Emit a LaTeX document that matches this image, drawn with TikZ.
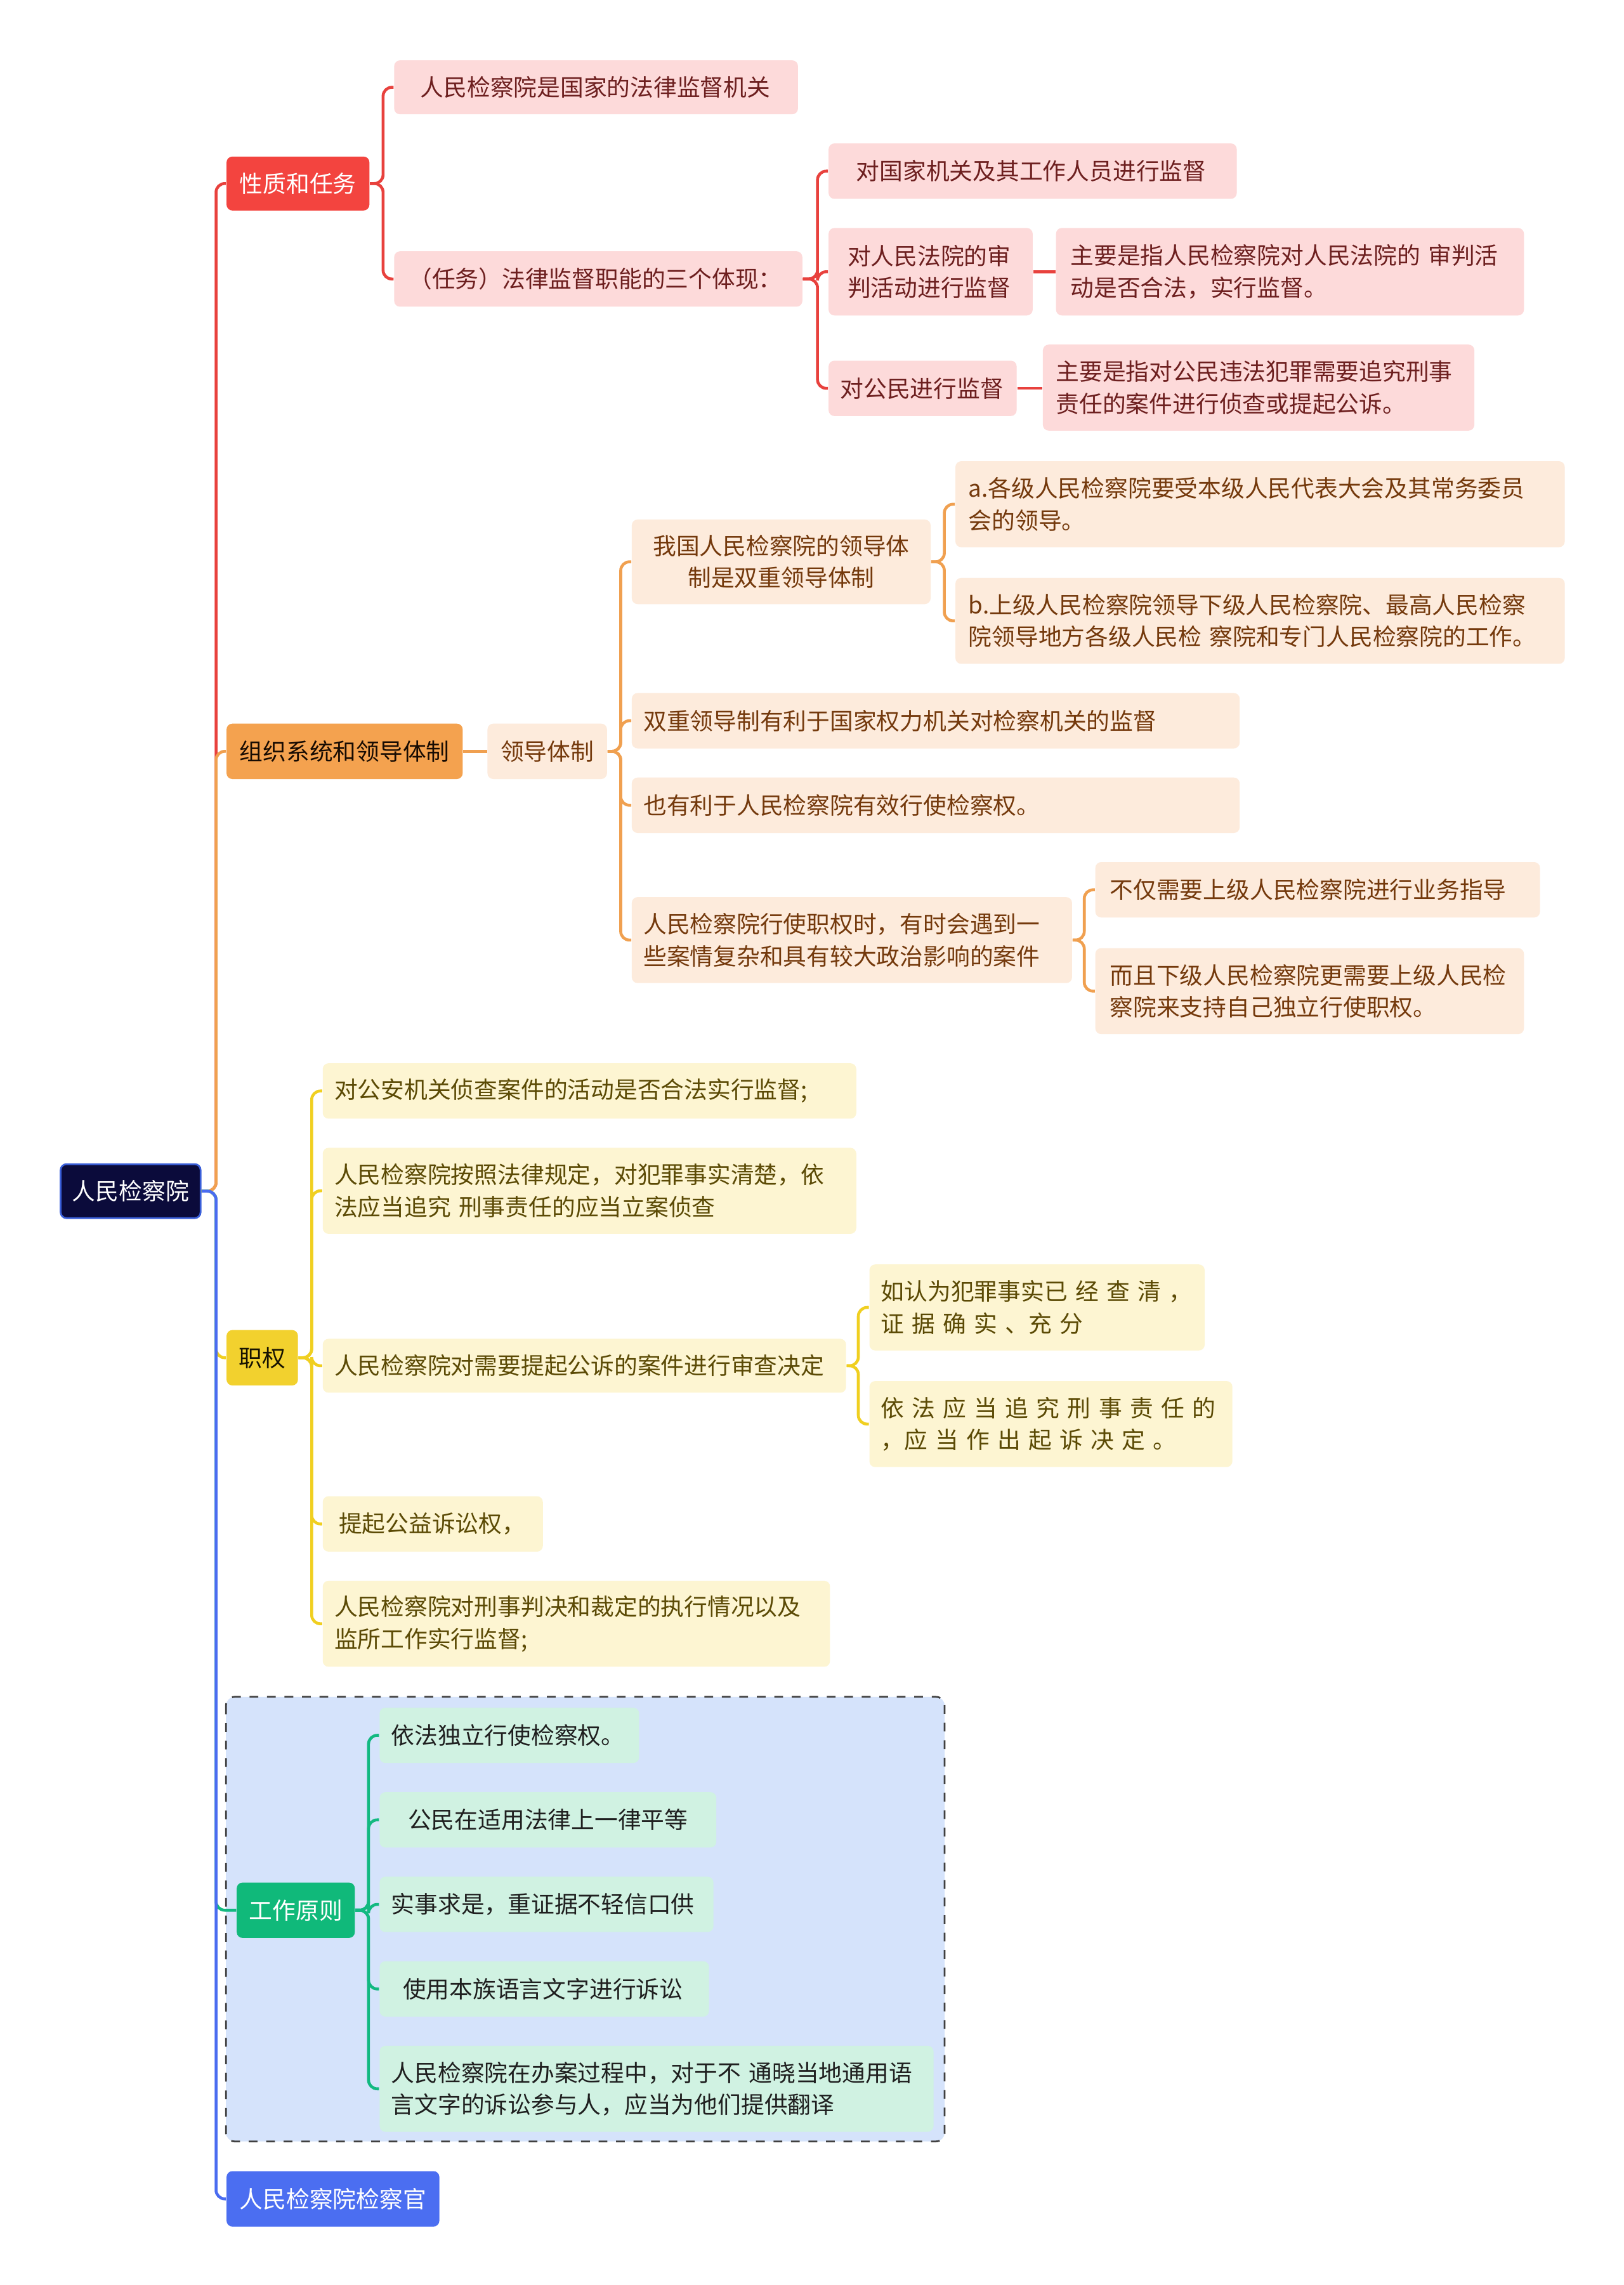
\documentclass[tikz,border=0pt]{standalone}
\usepackage{fontspec}
\newfontfamily\cjk{Noto Sans CJK SC}
\definecolor{rootF}{HTML}{0B0B3B}
\definecolor{rootB}{HTML}{3A5FD9}
\definecolor{redL}{HTML}{E8413D}
\definecolor{redF}{HTML}{F3443F}
\definecolor{redC}{HTML}{FDDADA}
\definecolor{redT}{HTML}{6D1F1F}
\definecolor{orgL}{HTML}{F0A050}
\definecolor{orgF}{HTML}{F4A24F}
\definecolor{orgC}{HTML}{FDEBDC}
\definecolor{orgT}{HTML}{74390C}
\definecolor{yelL}{HTML}{F0CF20}
\definecolor{yelF}{HTML}{F2D12E}
\definecolor{yelC}{HTML}{FDF5D2}
\definecolor{yelT}{HTML}{5B4A05}
\definecolor{grnL}{HTML}{12B981}
\definecolor{grnF}{HTML}{10B97A}
\definecolor{grnC}{HTML}{D0F2E2}
\definecolor{bluL}{HTML}{4A6CF0}
\definecolor{bluF}{HTML}{4B6EF1}
\definecolor{frameF}{HTML}{D5E3FB}
\begin{document}
\begin{tikzpicture}[x=0.5pt,y=-0.5pt,
  base/.style={font=\cjk\fontsize{8}{11}\selectfont, inner ysep=0pt, anchor=north west, rounded corners=2pt},
  lvl/.style={base, inner xsep=0pt, align=center},
  leaf/.style={base, align=left},
  bx/.style args={#1/#2/#3}{inner xsep=#1pt, text width=#2pt, minimum height=#3pt},
  sz/.style args={#1/#2}{minimum width=#1pt, minimum height=#2pt},
  rC/.style={leaf, fill=redC, text=redT},
  oC/.style={leaf, fill=orgC, text=orgT},
  yC/.style={leaf, fill=yelC, text=yelT},
  gC/.style={leaf, fill=grnC, text=black!88},
  cn/.style={line width=1pt, rounded corners=3pt},
  cR/.style={cn, draw=redL},
  cO/.style={cn, draw=orgL},
  cY/.style={cn, draw=yelL},
  cG/.style={cn, draw=grnL},
  cB/.style={cn, draw=bluL}]
\useasboundingbox (0,0) rectangle (1114,1567.5);
\fill[white] (0,0) rectangle (1114,1567.5);

% frame for working principles
\draw[fill=frameF, draw=black!75, dashed, line width=0.6pt, rounded corners=3pt] (155,1164) rectangle (648,1469);

% root
\node[lvl, sz=48/18.5, fill=rootF, draw=rootB, line width=0.6pt, text=white] (root) at (41,798) {人民检察院};

% level 1
\node[lvl, sz=49/18.5, fill=redF, text=white] (xz) at (155,107) {性质和任务};
\node[lvl, sz=81/19, fill=orgF, text=black!80!orgT] (zz) at (155,496) {组织系统和领导体制};
\node[lvl, sz=24.5/19, fill=yelF, text=black!75!yelT] (zq) at (155,912) {职权};
\node[lvl, sz=40.5/19, fill=grnF, text=white] (gz) at (162,1291) {工作原则};
\node[lvl, sz=73/19, fill=bluF, text=white] (jcg) at (155,1489) {人民检察院检察官};

% red branch
\node[rC, bx=9/120.5/18.5] (A1) at (270,41) {人民检察院是国家的法律监督机关};
\node[rC, bx=5/130/19] (A2) at (270,172) {（任务）法律监督职能的三个体现：};
\node[rC, bx=9.5/121/19] (B1) at (568,98) {对国家机关及其工作人员进行监督};
\node[rC, bx=6.5/57/30] (B2) at (568,156) {对人民法院的审\\判活动进行监督};
\node[rC, bx=4/56.5/19] (B3) at (568,247) {对公民进行监督};
\node[rC, bx=5/150.5/30] (B2c) at (724,156) {主要是指人民检察院对人民法院的 审判活\\动是否合法，实行监督。};
\node[rC, bx=4.5/139/29.5] (B3c) at (715,236) {主要是指对公民违法犯罪需要追究刑事\\责任的案件进行侦查或提起公诉。};

% orange branch
\node[oC, align=center, bx=0/41/19] (ld) at (334,496) {领导体制};
\node[oC, align=center, bx=5/92.5/29] (C1) at (433,356) {我国人民检察院的领导体\\制是双重领导体制};
\node[oC, bx=4/200.5/19] (C2) at (433,475) {双重领导制有利于国家权力机关对检察机关的监督};
\node[oC, bx=4/200.5/19] (C3) at (433,533) {也有利于人民检察院有效行使检察权。};
\node[oC, bx=4/143/29.5] (C4) at (433,615) {人民检察院行使职权时，有时会遇到一\\些案情复杂和具有较大政治影响的案件};
\node[oC, bx=4.5/200/29.5] (D1) at (655,316) {a.各级人民检察院要受本级人民代表大会及其常务委员\\会的领导。};
\node[oC, bx=4.5/200/29.5] (D2) at (655,396) {b.上级人民检察院领导下级人民检察院、最高人民检察\\院领导地方各级人民检 察院和专门人民检察院的工作。};
\node[oC, bx=5/142.5/19] (E1) at (751,591) {不仅需要上级人民检察院进行业务指导};
\node[oC, bx=5/137/29.5] (E2) at (751,650) {而且下级人民检察院更需要上级人民检\\察院来支持自己独立行使职权。};

% yellow branch
\node[yC, bx=4/175/19] (F1) at (221,729) {对公安机关侦查案件的活动是否合法实行监督;};
\node[yC, bx=4/175/29.5] (F2) at (221,787) {人民检察院按照法律规定，对犯罪事实清楚，依\\法应当追究 刑事责任的应当立案侦查};
\node[yC, bx=4/171.5/18.5] (F3) at (221,918) {人民检察院对需要提起公诉的案件进行审查决定};
\node[yC, bx=5.5/64.5/19] (F4) at (221,1026) {提起公益诉讼权，};
\node[yC, bx=4/166/29.5] (F5) at (221,1084) {人民检察院对刑事判决和裁定的执行情况以及\\监所工作实行监督;};
\node[yC, bx=4/107/29.5] (G1) at (596,867) {如认为犯罪事实已 经 查 清 ，\\证 据 确 实 、充 分};
\node[yC, bx=4/116.5/29.5] (G2) at (596,947) {依 法 应 当 追 究 刑 事 责 任 的\\，应 当 作 出 起 诉 决 定 。};

% green branch
\node[gC, bx=4/81/19] (H1) at (260,1171) {依法独立行使检察权。};
\node[gC, bx=9.75/96/19] (H2) at (260,1229) {公民在适用法律上一律平等};
\node[gC, bx=4/106.5/19] (H3) at (260,1287) {实事求是，重证据不轻信口供};
\node[gC, bx=8/97/19] (H4) at (260,1345) {使用本族语言文字进行诉讼};
\node[gC, bx=4/182/29.5] (H5) at (260,1403) {人民检察院在办案过程中，对于不 通晓当地通用语\\言文字的诉讼参与人，应当为他们提供翻译};

% trunk connectors
\draw[cR] (root.east) -- ++(10,0) |- (xz.west);
\draw[cO] (root.east) -- ++(10,0) |- (zz.west);
\draw[cY] (root.east) -- ++(10,0) |- (zq.west);
\draw[cG] (root.east) -- ++(10,0) |- (gz.west);
\draw[cB] (root.east) -- ++(10,0) |- (jcg.west);

% red connectors
\foreach \c in {A1,A2} \draw[cR] (xz.east) -- ++(9,0) |- (\c.west);
\foreach \c in {B1,B2,B3} \draw[cR] (A2.east) -- ++(10,0) |- (\c.west);
\draw[cR] (B2.east) -- (B2.east -| B2c.west);
\draw[cR] (B3.east) -- (B3.east -| B3c.west);

% orange connectors
\draw[cO] (zz.east) -- (ld.west);
\foreach \c in {C1,C2,C3,C4} \draw[cO] (ld.east) -- ++(9,0) |- (\c.west);
\foreach \c in {D1,D2} \draw[cO] (C1.east) -- ++(9,0) |- (\c.west);
\foreach \c in {E1,E2} \draw[cO] (C4.east) -- ++(8,0) |- (\c.west);

% yellow connectors
\foreach \c in {F1,F2,F3,F4,F5} \draw[cY] (zq.east) -- ++(9,0) |- (\c.west);
\foreach \c in {G1,G2} \draw[cY] (F3.east) -- ++(8,0) |- (\c.west);

% green connectors
\foreach \c in {H1,H2,H3,H4,H5} \draw[cG] (gz.east) -- ++(9,0) |- (\c.west);
\end{tikzpicture}
\end{document}
